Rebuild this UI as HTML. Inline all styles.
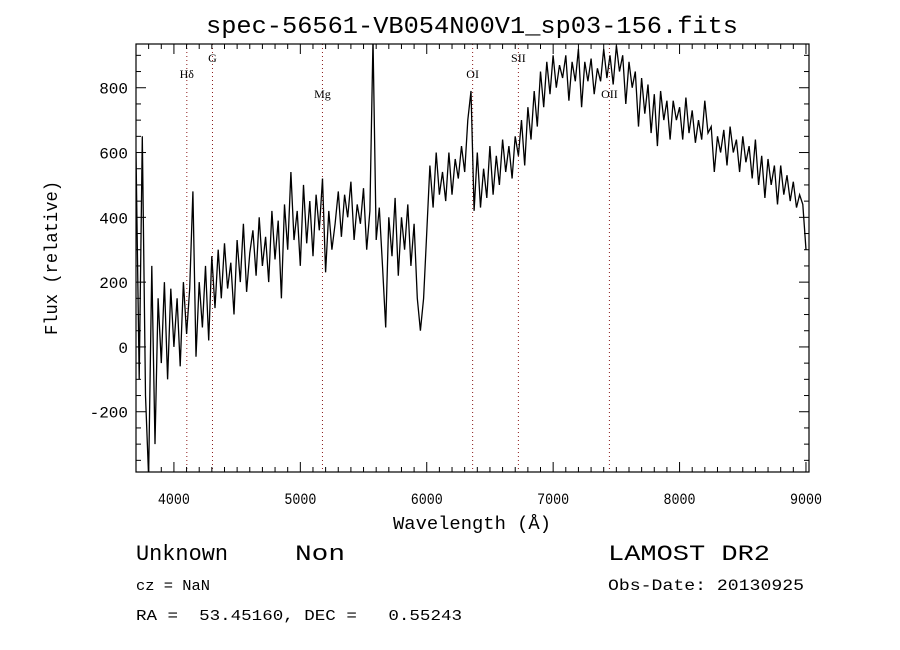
<!DOCTYPE html>
<html><head><meta charset="utf-8"><style>
body{margin:0;background:#fff;}
svg{display:block;}
text{fill:#000;}
</style></head><body>
<svg id="chart" width="900" height="650" xmlns="http://www.w3.org/2000/svg">
<rect width="900" height="650" fill="#fff"/>
<defs><clipPath id="clip"><rect x="136" y="44" width="673" height="428"/></clipPath></defs>
<text x="472" y="33" font-family="Liberation Mono, monospace" font-size="24" text-anchor="middle" textLength="532" lengthAdjust="spacingAndGlyphs">spec-56561-VB054N00V1_sp03-156.fits</text>
<g id="lines"></g>
<g id="spec" clip-path="url(#clip)"></g>
<rect x="136" y="44" width="673" height="428" fill="none" stroke="#000" stroke-width="1.2"/>
<g id="axes"></g>
<text x="393" y="529" font-family="Liberation Mono, monospace" font-size="18" textLength="158" lengthAdjust="spacingAndGlyphs">Wavelength (Å)</text>
<text transform="translate(57,258) rotate(-90)" font-family="Liberation Mono, monospace" font-size="18" text-anchor="middle" textLength="154" lengthAdjust="spacingAndGlyphs">Flux (relative)</text>
<text x="136" y="560" font-family="Liberation Mono, monospace" font-size="22" textLength="92" lengthAdjust="spacingAndGlyphs">Unknown</text>
<text x="295" y="560" font-family="Liberation Mono, monospace" font-size="22" textLength="50" lengthAdjust="spacingAndGlyphs">Non</text>
<text x="136" y="590" font-family="Liberation Mono, monospace" font-size="15" textLength="74" lengthAdjust="spacingAndGlyphs">cz = NaN</text>
<text x="136" y="620" font-family="Liberation Mono, monospace" font-size="15" xml:space="preserve" textLength="326" lengthAdjust="spacingAndGlyphs">RA =  53.45160, DEC =   0.55243</text>
<text x="608" y="560" font-family="Liberation Mono, monospace" font-size="22" textLength="162" lengthAdjust="spacingAndGlyphs">LAMOST DR2</text>
<text x="608" y="590" font-family="Liberation Mono, monospace" font-size="16" textLength="196" lengthAdjust="spacingAndGlyphs">Obs-Date: 20130925</text>
</svg>
<script>
const waveStart = 3700;
const waveStep = 25;
const flux = [600,-100,650,-150,-400,250,-300,150,-50,200,-100,180,
0,150,-60,200,40,180,480,-30,200,60,250,20,
280,120,300,150,320,180,260,100,330,200,380,170,290,360,220,400,250,340,200,420,270,390,150,440,300,540,330,420,
250,500,320,450,280,470,360,520,230,420,300,380,480,340,470,400,510,330,440,380,490,300,420,950,
330,430,250,60,400,280,460,220,400,300,440,250,380,150,50,150,
350,560,430,600,470,540,450,600,470,580,520,620,540,700,790,420,600,430,550,460,620,470,590,500,640,540,620,520,
650,590,700,560,740,640,790,680,850,740,880,780,
900,800,870,830,900,760,880,820,920,740,880,820,890,780,860,820,920,830,900,810,930,850,900,750,
880,800,850,680,830,720,810,660,780,620,790,700,760,640,760,700,
740,640,770,660,730,630,700,640,760,660,680,540,650,600,670,560,680,600,640,540,650,570,620,520,
640,500,590,460,580,500,560,440,560,470,530,450,510,430,470,440,300];
const xTicks = [4000,5000,6000,7000,8000,9000];
const yTicks = [-200,0,200,400,600,800];
const lineNames = ["Hδ","G","Mg","OI","SII","OII"];
const lineWaves = [4102,4305,5175,6363,6725,7445];
const lineLabelY = [78,62,98,78,62,98];

const X0=136,X1=809,Y0=44,Y1=472, wMin=3700,wMax=9024,fMin=-386,fMax=935;
const sx=w=>X0+(w-wMin)/(wMax-wMin)*(X1-X0);
const sy=f=>Y1-(f-fMin)/(fMax-fMin)*(Y1-Y0);
const NS="http://www.w3.org/2000/svg";
function mk(tag,attrs,parent){const e=document.createElementNS(NS,tag);for(const k in attrs)e.setAttribute(k,attrs[k]);parent.appendChild(e);return e;}

const spec=document.getElementById('spec');
let d="";
flux.forEach((f,i)=>{d+=(i?"L":"M")+sx(waveStart+i*waveStep).toFixed(1)+","+sy(f).toFixed(1);});
const p=mk('path',{d:d,fill:'none',stroke:'#000','stroke-width':1.3},spec);



const lg=document.getElementById('lines');
lineWaves.forEach((w,i)=>{
  const l=mk('line',{x1:sx(w),x2:sx(w),y1:Y0,y2:Y1,stroke:'#8b1a1a','stroke-width':1,'stroke-dasharray':'1,3'},lg);
  
  
  const t=mk('text',{x:sx(w),y:lineLabelY[i],'font-family':'Liberation Serif, serif','font-size':12,'text-anchor':'middle'},lg);
  t.textContent=lineNames[i];
  
  
});

const ax=document.getElementById('axes');
for(let w=3800;w<=9000;w+=100){
  const major=w%1000===0, L=major?10:5, x=sx(w);
  mk('line',{x1:x,x2:x,y1:Y1,y2:Y1-L,stroke:'#000'},ax);
  mk('line',{x1:x,x2:x,y1:Y0,y2:Y0+L,stroke:'#000'},ax);
}
xTicks.forEach(w=>{
  const t=mk('text',{x:sx(w)-16,y:Y1+32,'font-family':'Liberation Mono, monospace','font-size':16,textLength:32,lengthAdjust:'spacingAndGlyphs'},ax);
  t.textContent=w;
  
  
});
for(let f=-350;f<=900;f+=50){
  const major=f%200===0, L=major?10:5, y=sy(f);
  mk('line',{x1:X0,x2:X0+L,y1:y,y2:y,stroke:'#000'},ax);
  mk('line',{x1:X1,x2:X1-L,y1:y,y2:y,stroke:'#000'},ax);
}
yTicks.forEach(f=>{
  const t=mk('text',{x:X0-8,y:sy(f)+6,'font-family':'Liberation Mono, monospace','font-size':16,'text-anchor':'end'},ax);
  t.textContent=f;
  
  
});
</script>
</body></html>
